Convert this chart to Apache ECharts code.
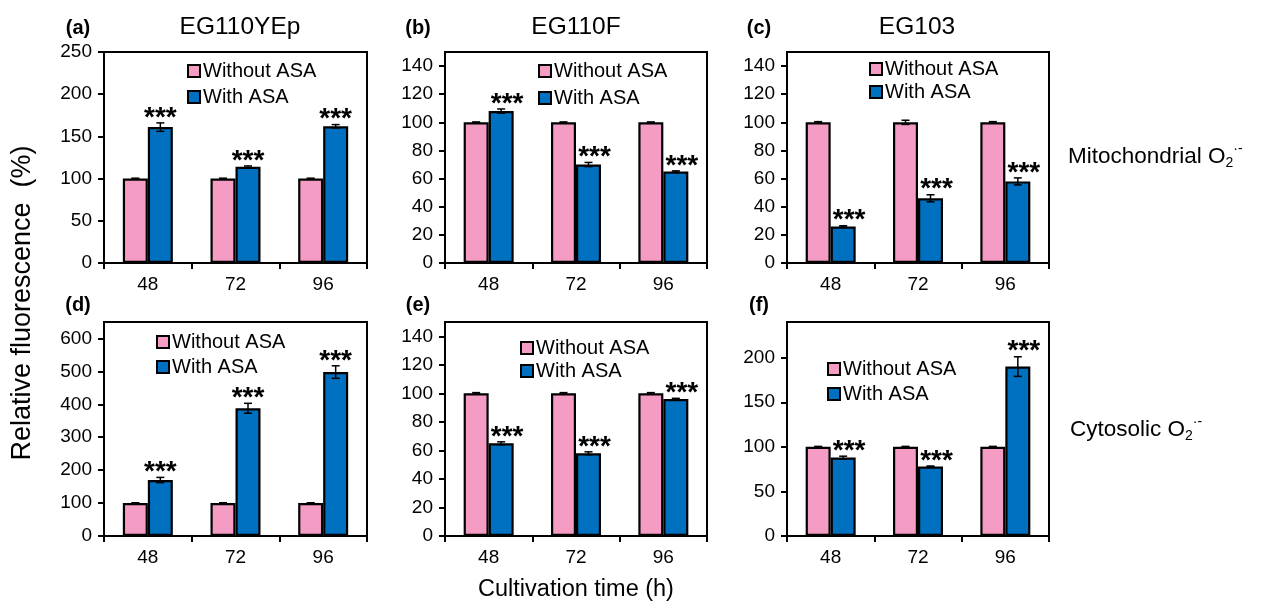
<!DOCTYPE html>
<html><head><meta charset="utf-8">
<script src="https://cdn.jsdelivr.net/npm/echarts@6/dist/echarts.min.js"></script>
<style>html,body{margin:0;padding:0;background:#fff}#c{width:1262px;height:605px}</style>
</head><body><div id="c"></div>
<script>
// ---------- data ----------
const categories = ['48', '72', '96'];
const seriesNames = ['Without ASA', 'With ASA'];
const panelLabels = ['(a)', '(b)', '(c)', '(d)', '(e)', '(f)'];
const strainTitles = ['EG110YEp', 'EG110F', 'EG103'];

const without_a = [100, 100, 100]; const withoutErr_a = [0.5, 0.5, 0.5];
const with_a = [161, 114, 162];    const withErr_a = [5, 1, 2];
const ticks_a = [0, 50, 100, 150, 200, 250];

const without_b = [100, 100, 100]; const withoutErr_b = [0.3, 0.3, 0.3];
const with_b = [108, 70, 65];      const withErr_b = [1.5, 1.5, 0.5];
const ticks_b = [0, 20, 40, 60, 80, 100, 120, 140];

const without_c = [100, 100, 100]; const withoutErr_c = [0.5, 1.5, 0.5];
const with_c = [26, 46, 58];       const withErr_c = [0.5, 2.5, 2.5];
const ticks_c = [0, 20, 40, 60, 80, 100, 120, 140];

const without_d = [100, 100, 100]; const withoutErr_d = [1, 1, 1];
const with_d = [170, 388, 498];    const withErr_d = [8, 15, 19];
const ticks_d = [0, 100, 200, 300, 400, 500, 600];

const without_e = [100, 100, 100]; const withoutErr_e = [0.5, 0.5, 0.5];
const with_e = [65, 58, 96];       const withErr_e = [1, 1, 0.5];
const ticks_e = [0, 20, 40, 60, 80, 100, 120, 140];

const without_f = [100, 100, 100]; const withoutErr_f = [0.5, 0.5, 0.5];
const with_f = [88, 78, 190];      const withErr_f = [1.5, 0.5, 11];
const ticks_f = [0, 50, 100, 150, 200];

const axisMax = [250, 150, 150, 650, 150, 240];
const axisStep = [50, 20, 20, 100, 20, 50];

// ---------- layout / style ----------
const FONT = '"Liberation Sans", Arial, sans-serif';
const PINK = '#F49CC4', BLUE = '#0070C0';
const panels = [
  { without: without_a, woErr: withoutErr_a, withv: with_a, wErr: withErr_a, ticks: ticks_a },
  { without: without_b, woErr: withoutErr_b, withv: with_b, wErr: withErr_b, ticks: ticks_b },
  { without: without_c, woErr: withoutErr_c, withv: with_c, wErr: withErr_c, ticks: ticks_c },
  { without: without_d, woErr: withoutErr_d, withv: with_d, wErr: withErr_d, ticks: ticks_d },
  { without: without_e, woErr: withoutErr_e, withv: with_e, wErr: withErr_e, ticks: ticks_e },
  { without: without_f, woErr: withoutErr_f, withv: with_f, wErr: withErr_f, ticks: ticks_f }
];
const layout = [
  { left: 104, top: 52, width: 263, height: 211, lgLeft: 187, lgTop: 61, lgGap: 6, starDx: 0 },
  { left: 445, top: 52, width: 262, height: 211, lgLeft: 538, lgTop: 61, lgGap: 7, starDx: 6 },
  { left: 787, top: 52, width: 262, height: 211, lgLeft: 869, lgTop: 59, lgGap: 3, starDx: 6 },
  { left: 104, top: 322, width: 263, height: 214, lgLeft: 156, lgTop: 332, lgGap: 5, starDx: 0 },
  { left: 445, top: 322, width: 262, height: 214, lgLeft: 520, lgTop: 338, lgGap: 3, starDx: 6 },
  { left: 787, top: 322, width: 262, height: 214, lgLeft: 827, lgTop: 359, lgGap: 5, starDx: 6 }
];
const BAR_W = 25;

const grid = [], xAxis = [], yAxis = [], series = [], legend = [];
panels.forEach((p, i) => {
  const L = layout[i];
  grid.push({ left: L.left, top: L.top, width: L.width, height: L.height, show: true,
    borderColor: '#000', borderWidth: 2, backgroundColor: 'transparent', containLabel: false });
  xAxis.push({ type: 'category', gridIndex: i, data: categories, boundaryGap: true,
    axisLine: { lineStyle: { color: '#000', width: 2 } },
    axisTick: { show: true, length: 6, alignWithLabel: false, lineStyle: { color: '#000', width: 2 } },
    axisLabel: { color: '#000', fontSize: 19, margin: 12, fontFamily: FONT },
    splitLine: { show: false } });
  yAxis.push({ type: 'value', gridIndex: i, min: 0, max: axisMax[i], interval: axisStep[i],
    axisLine: { show: true, lineStyle: { color: '#000', width: 2 } },
    axisTick: { show: true, length: 6, lineStyle: { color: '#000', width: 2 }, customValues: p.ticks },
    axisLabel: { color: '#000', fontSize: 19, margin: 12, fontFamily: FONT, customValues: p.ticks },
    splitLine: { show: false } });
  series.push({ type: 'bar', name: seriesNames[0], xAxisIndex: i, yAxisIndex: i, data: p.without,
    barWidth: BAR_W, barGap: '0%', itemStyle: { color: PINK, borderColor: '#000', borderWidth: 2.2 } });
  series.push({ type: 'bar', name: seriesNames[1], xAxisIndex: i, yAxisIndex: i, data: p.withv,
    barWidth: BAR_W, barGap: '0%', itemStyle: { color: BLUE, borderColor: '#000', borderWidth: 2.2 } });
  const items = [];
  p.without.forEach((v, k) => items.push([k, v, p.woErr[k], 0, 0]));
  p.withv.forEach((v, k) => items.push([k, v, p.wErr[k], 1, 1]));
  series.push({ type: 'custom', xAxisIndex: i, yAxisIndex: i, data: items, z: 10, silent: true,
    encode: { x: 0, y: 1 },
    renderItem: (params, api) => {
      const cat = api.value(0), val = api.value(1), err = api.value(2), side = api.value(3), star = api.value(4);
      const top = api.coord([cat, val + err]);
      const bot = api.coord([cat, val - err]);
      const x = top[0] + (side === 0 ? -BAR_W / 2 : BAR_W / 2);
      const st = { stroke: '#000', lineWidth: 1.5 };
      const cap = 4;
      const ch = [
        { type: 'line', shape: { x1: x, y1: top[1], x2: x, y2: bot[1] }, style: st },
        { type: 'line', shape: { x1: x - cap, y1: top[1], x2: x + cap, y2: top[1] }, style: st },
        { type: 'line', shape: { x1: x - cap, y1: bot[1], x2: x + cap, y2: bot[1] }, style: st }
      ];
      if (star) ch.push({ type: 'text', style: { text: '***', x: x + L.starDx, y: top[1] - 5,
        align: 'center', verticalAlign: 'middle', font: 'bold 28px ' + FONT, fill: '#000' } });
      return { type: 'group', children: ch };
    } });
  legend.push({ orient: 'vertical', left: L.lgLeft, top: L.lgTop, padding: 0, itemGap: L.lgGap,
    itemWidth: 12, itemHeight: 12, icon: 'rect', selectedMode: false, data: seriesNames,
    textStyle: { fontSize: 20, lineHeight: 20, color: '#000', fontFamily: FONT, padding: [0, 0, 0, -2] } });
});

const txt = (x, y, text, size, extra) => Object.assign({ type: 'text', x: x, y: y,
  style: Object.assign({ text: text, font: size + 'px ' + FONT, fill: '#000', align: 'center', verticalAlign: 'middle' }, extra || {}) });
const graphic = [];
const labelPos = [[78, 28], [418, 28], [759, 28], [78, 305], [418, 305], [759, 305]];
panelLabels.forEach((t, i) => graphic.push(txt(labelPos[i][0], labelPos[i][1], t, 20, { font: 'bold 20px ' + FONT })));
const titleX = [240, 576, 917];
strainTitles.forEach((t, i) => graphic.push(txt(titleX[i], 27, t, 24.5)));
graphic.push({ type: 'text', x: 23, y: 303, rotation: Math.PI / 2,
  style: { text: 'Relative fluorescence  (%)', font: '27px ' + FONT, fill: '#000', align: 'center', verticalAlign: 'middle' } });
graphic.push(txt(576, 590, 'Cultivation time (h)', 23.5));
const rich = { a: { fontSize: 22.5, fontFamily: FONT, color: '#000' },
  b: { fontSize: 14, fontFamily: FONT, color: '#000', padding: [12, 0, 0, 0] },
  c: { fontSize: 14, fontFamily: FONT, color: '#000', padding: [0, 0, 16, 0] } };
graphic.push({ type: 'text', x: 1068, y: 157, style: { text: '{a|Mitochondrial O}{b|2}{c|·-}', rich: rich, align: 'left', verticalAlign: 'middle' } });
graphic.push({ type: 'text', x: 1070, y: 430, style: { text: '{a|Cytosolic O}{b|2}{c|·-}', rich: rich, align: 'left', verticalAlign: 'middle' } });

const chart = echarts.init(document.getElementById('c'), null, { renderer: 'canvas' });
chart.setOption({ animation: false, backgroundColor: '#fff', grid, xAxis, yAxis, series, legend, graphic });
</script></body></html>
